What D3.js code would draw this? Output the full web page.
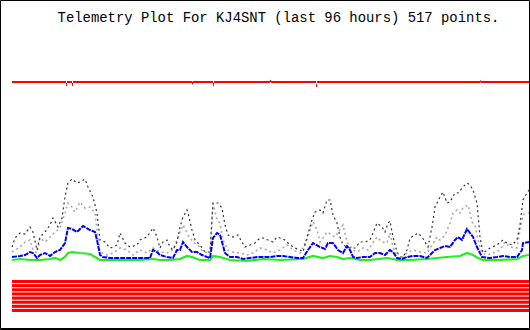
<!DOCTYPE html>
<html><head><meta charset="utf-8">
<script src="https://cdn.jsdelivr.net/npm/d3@7"></script>
<style>html,body{margin:0;padding:0;background:#fff;}svg{display:block;}</style>
</head><body>
<svg id="chart" width="530" height="330"></svg>
<script>
const titleText = "Telemetry Plot For KJ4SNT (last 96 hours) 517 points.";
const pointCount = 517;

// series: point index and level
const blackIdx = [0,3,8,13,18,21,25,28,33,38,41,46,50,53,56,60,65,68,73,76,81,85,88,93,98,101,105,108,113,118,125,128,135,141,145,148,151,155,158,161,165,168,171,175,176,180,183,188,193,198,201,206,210,213,216,221,226,230,233,238,243,248,251,256,261,265,268,273,278,283,288,291,295,300,303,308,311,315,318,321,325,328,331,335,338,343,348,353,358,361,365,370,373,376,378,381,385,388,391,395,398,403,406,410,413,416,420,423,428,431,435,438,443,446,451,455,458,461,465,468,471,478,485,491,495,500,505,508,511,515,517];
const blackVal = [23,32,37,36,43,38,20,33,38,45,52,43,52,73,87,91,87,88,91,83,73,57,30,28,22,23,25,37,27,23,25,30,33,42,33,22,28,30,23,20,28,43,53,60,57,40,30,25,18,18,67,67,62,45,35,33,35,28,23,25,27,32,32,30,28,33,32,30,25,22,20,18,33,50,58,60,57,70,70,55,47,33,25,23,22,22,28,28,30,37,47,43,38,47,49,33,18,13,13,20,32,35,37,33,28,23,43,63,73,78,67,68,77,77,83,87,85,80,67,33,17,22,25,30,27,25,30,45,70,77,80];

const grayIdx = [0,8,13,18,21,25,28,33,38,43,48,53,56,60,63,68,73,78,83,85,88,95,101,108,115,121,128,135,141,148,155,161,168,171,176,181,186,191,198,201,205,208,211,216,221,228,235,241,248,255,261,268,275,281,288,295,298,301,305,308,315,320,323,331,335,341,345,351,356,365,370,375,378,381,386,391,396,401,408,415,420,425,428,433,438,441,445,448,451,456,460,463,466,470,475,481,488,493,498,505,508,511,515,517];
const grayVal = [18,23,28,30,20,17,32,28,33,38,42,57,67,63,58,68,62,63,57,40,18,15,17,22,20,15,20,17,22,18,17,20,38,45,35,28,25,18,17,67,50,47,30,20,18,17,15,17,22,20,17,20,25,20,17,30,40,48,40,28,38,35,33,45,28,20,18,22,20,33,28,27,37,23,12,13,18,20,18,17,25,33,30,35,47,57,60,57,62,65,48,45,30,17,15,17,20,28,23,22,40,55,57,57];

const blueIdx = [0,8,13,18,21,25,28,33,38,43,48,53,56,60,65,71,78,83,85,88,91,98,108,118,128,138,141,145,148,155,161,165,168,171,175,180,185,190,195,198,201,205,208,210,213,218,225,231,238,245,251,258,265,271,278,285,291,296,301,308,313,316,321,326,331,335,338,341,345,351,358,363,368,373,378,381,385,390,395,401,408,415,418,423,428,433,438,443,446,450,455,458,461,465,470,478,485,491,498,505,510,511,517];
const blueVal = [13,14,15,18,17,12,15,17,14,18,20,27,42,41,38,44,40,38,30,15,13,12,12,12,12,12,20,18,15,13,12,20,20,28,23,18,18,15,13,12,32,37,35,28,17,13,13,11,12,13,13,13,14,14,13,12,12,20,27,23,21,27,27,20,17,24,20,13,12,13,13,17,17,15,20,18,12,11,13,14,14,12,15,20,22,24,23,30,33,30,41,37,33,23,13,12,13,14,13,13,20,27,28];

const greenIdx = [0,8,18,28,38,43,48,53,56,60,68,78,83,88,108,128,141,148,158,168,175,180,188,198,201,208,218,235,251,268,291,301,311,318,325,331,338,348,358,375,381,385,398,415,425,435,448,455,461,466,471,488,505,511,517];
const greenVal = [10,11,10,10,11,12,10,13,17,18,17,16,13,10,10,10,11,10,10,11,14,13,10,10,14,13,10,9,11,10,11,14,12,14,13,11,12,10,10,12,11,10,10,11,12,13,14,17,15,12,10,10,11,14,15];

// red status line: runs of [start index, end index] with level
const redStart = [0,54,55,60,61,180,181,201,202,258,259,304,305,468,469];
const redEnd   = [53,54,59,60,179,180,200,201,257,258,303,304,467,468,516];
const redVal   = [188,185.5,188,185.5,188,187,188,185.5,188,189,188,184.5,188,188.5,188];

// digital bit channels (all on over the whole window)
const bitNames = ["b0","b1","b2","b3","b4","b5","b6","b7"];
const bitValues = [1,1,1,1,1,1,1,1];

const svg = d3.select("#chart");
const W = 530, H = 330;

svg.append("rect").attr("x",0).attr("y",0).attr("width",W).attr("height",H).attr("fill","#fff");

const x = d3.scaleLinear().domain([0, pointCount]).range([12, 529]);
const y = d3.scaleLinear().domain([0, 260]).range([270, 10]);
const yb = d3.scaleBand().domain(bitNames).range([280, 312]).paddingInner(0.25);

svg.append("text")
  .attr("x", 278.5).attr("y", 22)
  .attr("text-anchor","middle")
  .attr("font-family","'Liberation Mono','DejaVu Sans Mono',monospace")
  .attr("font-size","13.9px")
  .attr("fill","#000")
  .text(titleText);

// red line
svg.append("g").selectAll("rect").data(redStart.map((s,i)=>({s, e: redEnd[i], v: redVal[i]})))
  .join("rect")
  .attr("x", d => x(d.s))
  .attr("width", d => x(d.e + 1) - x(d.s))
  .attr("y", d => y(d.v) - (d.v < 188 ? 1.5 : 1))
  .attr("height", d => d.v < 188 ? 3 : 2)
  .attr("fill", "#ff0000");

// bit stripes
svg.append("g").selectAll("rect").data(bitNames.map((b,i)=>({b, v: bitValues[i]})).filter(d=>d.v===1))
  .join("rect")
  .attr("x", x(0))
  .attr("width", x(pointCount) - x(0))
  .attr("y", d => yb(d.b))
  .attr("height", yb.bandwidth())
  .attr("fill", "#ff0000");

function series(idx, val, color, width, dash) {
  const line = d3.line().x(d => x(d[0])).y(d => y(d[1]));
  const p = svg.append("path")
    .datum(idx.map((t,i)=>[t, val[i]]))
    .attr("d", line)
    .attr("fill","none")
    .attr("stroke", color)
    .attr("stroke-width", width);
  if (dash) p.attr("stroke-dasharray", dash);
}

series(grayIdx, grayVal, "#aaaaaa", 1.6, "2,3");
series(blackIdx, blackVal, "#333333", 1.2, "2,3");
series(greenIdx, greenVal, "#22ee22", 2.2, null);
series(blueIdx, blueVal, "#0000ff", 2, "5,1");

// frame
svg.append("path")
  .attr("d", `M0.5,0.5H529.5V328.5H0.5Z`)
  .attr("fill","none").attr("stroke","#000").attr("stroke-width",1);
svg.append("line").attr("x1",0).attr("x2",530).attr("y1",329.5).attr("y2",329.5).attr("stroke","#000");
</script>
</body></html>
